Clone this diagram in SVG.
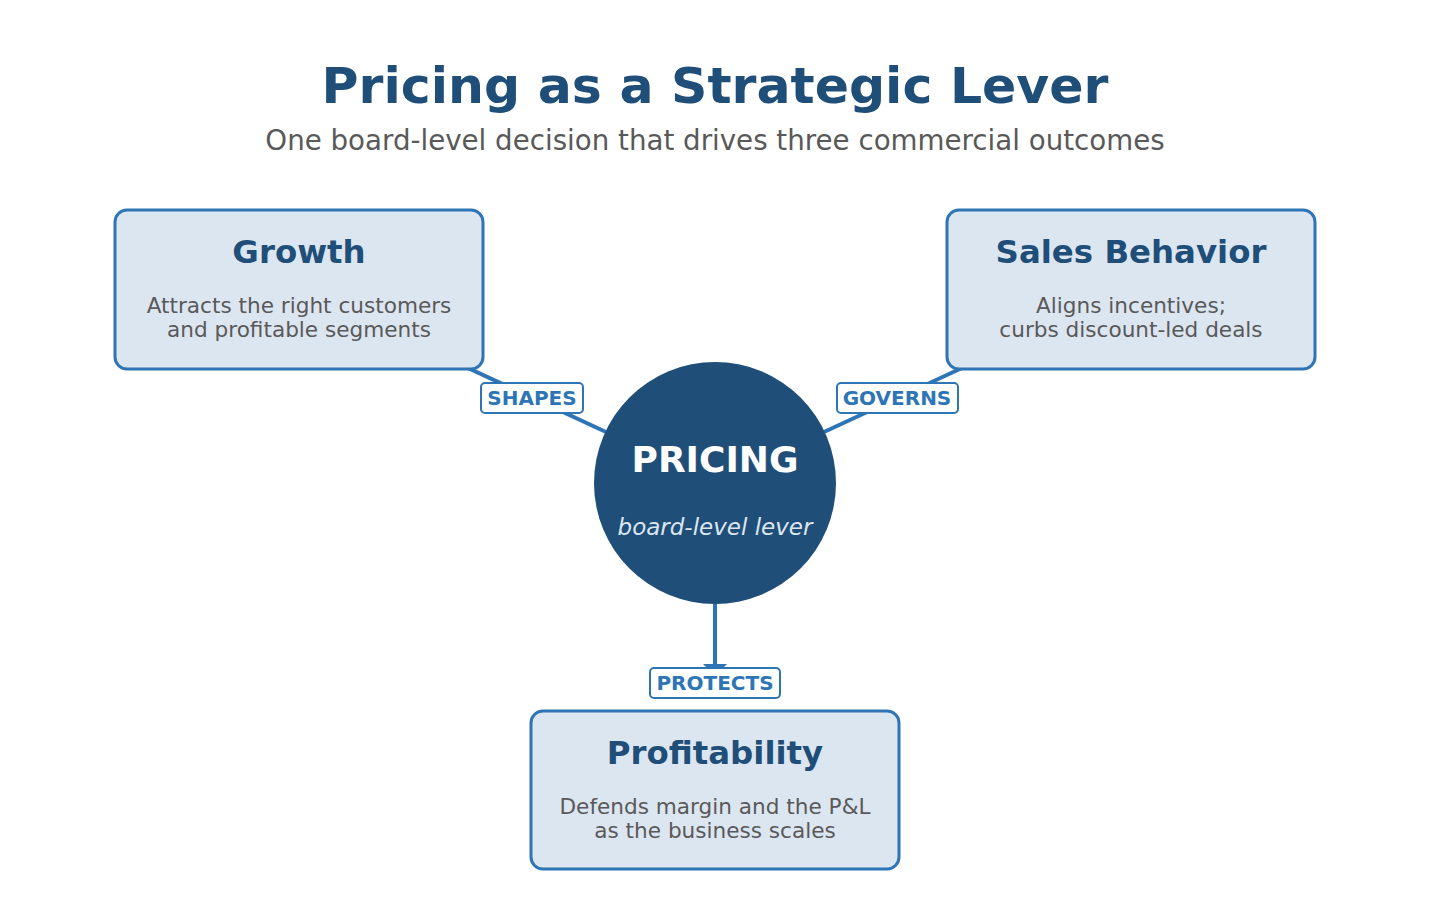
<svg xmlns="http://www.w3.org/2000/svg" width="1430" height="916" viewBox="0 0 1430 916">
<defs>
<style>
text{font-family:"DejaVu Sans","Liberation Sans",sans-serif;text-anchor:middle}
.box{fill:#dce6f1;stroke:#2e75b6;stroke-width:3}
.ttl{font-weight:bold;font-size:32.4px;fill:#1f4e79}
.desc{font-size:21.6px;fill:#595959}
.lbl{fill:#ffffff;stroke:#2e75b6;stroke-width:2}
.lbt{font-weight:bold;font-size:20px;fill:#2e75b6}
.conn{stroke:#2e75b6;stroke-width:4;fill:none}
</style>
<marker id="arr" markerWidth="5" markerHeight="6" refX="3" refY="3" orient="auto" markerUnits="strokeWidth">
<path d="M0,0 L3,3 L0,6 Z" fill="#2e75b6"/>
</marker>
</defs>
<rect width="1430" height="916" fill="#ffffff"/>
<text x="715" y="103" font-size="50.5" font-weight="bold" fill="#1f4e79">Pricing as a Strategic Lever</text>
<text x="715" y="150" font-size="27.7" fill="#595959">One board-level decision that drives three commercial outcomes</text>
<g id="connectors">
<line class="conn" x1="606" y1="432" x2="440" y2="355"/>
<line class="conn" x1="824" y1="432" x2="990" y2="355"/>
<line class="conn" x1="715" y1="604" x2="715" y2="676" marker-end="url(#arr)"/>
</g>
<g id="growth">
<rect class="box" x="115" y="210" width="368" height="159" rx="12"/>
<text class="ttl" x="299" y="263">Growth</text>
<text class="desc" x="299" y="313">Attracts the right customers</text>
<text class="desc" x="299" y="337">and profitable segments</text>
</g>
<g id="sales">
<rect class="box" x="947" y="210" width="368" height="159" rx="12"/>
<text class="ttl" x="1131" y="263">Sales Behavior</text>
<text class="desc" x="1131" y="313">Aligns incentives;</text>
<text class="desc" x="1131" y="337">curbs discount-led deals</text>
</g>
<g id="profitability">
<rect class="box" x="531" y="711" width="368" height="158" rx="12"/>
<text class="ttl" x="715" y="764">Profitability</text>
<text class="desc" x="715" y="814">Defends margin and the P&amp;L</text>
<text class="desc" x="715" y="838">as the business scales</text>
</g>
<g id="pricing">
<circle cx="715" cy="483" r="121" fill="#1f4e79"/>
<text x="715" y="472" font-size="36" font-weight="bold" fill="#ffffff">PRICING</text>
<text x="715" y="535" font-size="23" font-style="italic" fill="#dce6f1">board-level lever</text>
</g>
<g id="label-shapes">
<rect class="lbl" x="481" y="383" width="102" height="30" rx="4"/>
<text class="lbt" x="532" y="405">SHAPES</text>
</g>
<g id="label-governs">
<rect class="lbl" x="837" y="383" width="121" height="30" rx="4"/>
<text class="lbt" x="897" y="405">GOVERNS</text>
</g>
<g id="label-protects">
<rect class="lbl" x="650" y="668" width="130" height="30" rx="4"/>
<text class="lbt" x="715" y="690">PROTECTS</text>
</g>
</svg>
